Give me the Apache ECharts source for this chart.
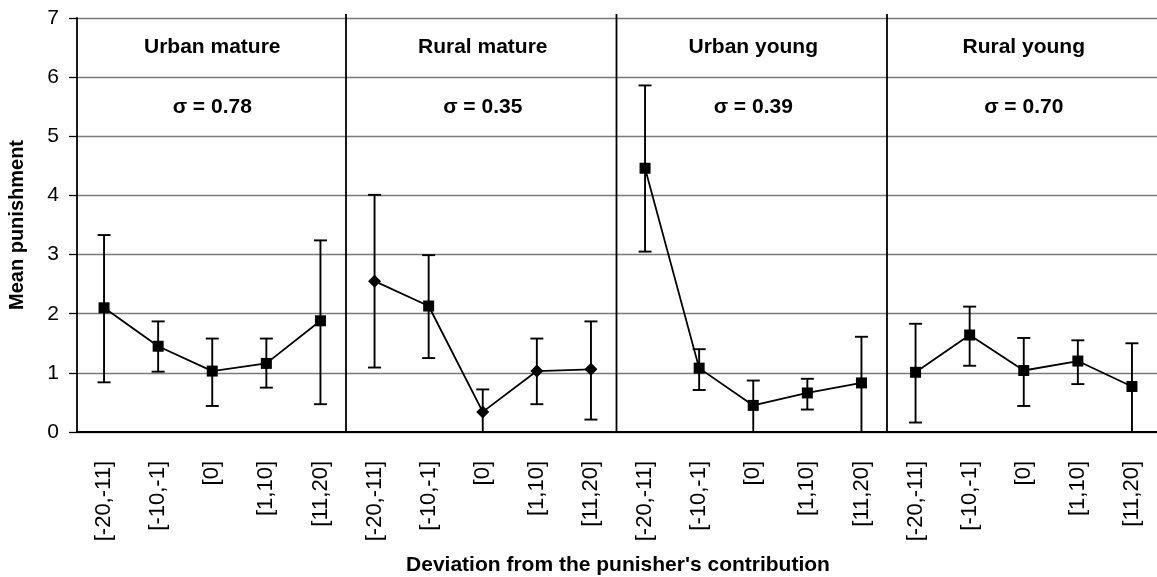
<!DOCTYPE html>
<html>
<head>
<meta charset="utf-8">
<script src="https://cdn.jsdelivr.net/npm/echarts/dist/echarts.min.js"></script>
<style>
  html, body { margin: 0; padding: 0; background: #fff; }
  #chart { width: 1157px; height: 577px; }
</style>
</head>
<body>
<div id="chart"></div>
<script>
// deviation bins, same five in every panel
const bins = ["[-20,-11]", "[-10,-1]", "[0]", "[1,10]", "[11,20]"];
const groupNames = ["Urban mature", "Rural mature", "Urban young", "Rural young"];
const sigmaLabels = ["σ = 0.78", "σ = 0.35", "σ = 0.39", "σ = 0.70"];
const yTicks = [0, 1, 2, 3, 4, 5, 6, 7];

// mean punishment per panel
const urbanMature = [2.10, 1.45, 1.03, 1.16, 1.88];
const ruralMature = [2.55, 2.13, 0.34, 1.03, 1.06];
const urbanYoung = [4.46, 1.08, 0.45, 0.66, 0.83];
const ruralYoung = [1.01, 1.64, 1.04, 1.20, 0.77];

// error bar ends
const urbanMatureHigh = [3.33, 1.87, 1.58, 1.58, 3.24];
const urbanMatureLow = [0.84, 1.02, 0.44, 0.75, 0.47];
const ruralMatureHigh = [4.01, 2.99, 0.72, 1.58, 1.87];
const ruralMatureLow = [1.09, 1.25, 0.00, 0.47, 0.21];
const urbanYoungHigh = [5.86, 1.40, 0.87, 0.90, 1.61];
const urbanYoungLow = [3.05, 0.71, 0.00, 0.38, 0.00];
const ruralYoungHigh = [1.83, 2.12, 1.59, 1.55, 1.50];
const ruralYoungLow = [0.16, 1.12, 0.44, 0.81, 0.00];

const means = [urbanMature, ruralMature, urbanYoung, ruralYoung];
const highs = [urbanMatureHigh, ruralMatureHigh, urbanYoungHigh, ruralYoungHigh];
const lows = [urbanMatureLow, ruralMatureLow, urbanYoungLow, ruralYoungLow];

const FONT = "'Liberation Sans', Arial, sans-serif";
const n = bins.length;
const categories = [];
groupNames.forEach(() => bins.forEach((b) => categories.push(b)));

// one line per panel so the panels are not joined
const lineSeries = means.map((vals, g) => {
  const data = categories.map(() => "-");
  vals.forEach((v, i) => { data[g * n + i] = v; });
  return {
    type: "line",
    data: data,
    connectNulls: false,
    symbol: function (value, params) {
      // rural mature panel uses diamonds, except the second point
      if (g === 1 && params.dataIndex !== n + 1) return "diamond";
      return "rect";
    },
    symbolSize: function (value, params) {
      return (g === 1 && params.dataIndex !== n + 1) ? 13 : 11;
    },
    lineStyle: { color: "#000", width: 1.8 },
    itemStyle: { color: "#000" },
    z: 4,
    silent: true,
  };
});

const errData = [];
means.forEach((vals, g) => {
  vals.forEach((v, i) => errData.push([g * n + i, lows[g][i], highs[g][i]]));
});

const errSeries = {
  type: "custom",
  data: errData,
  z: 3,
  silent: true,
  renderItem: function (params, api) {
    const lo = api.coord([api.value(0), api.value(1)]);
    const hi = api.coord([api.value(0), api.value(2)]);
    const cap = 6.5;
    const style = { stroke: "#000", lineWidth: 1.9 };
    return {
      type: "group",
      children: [
        { type: "line", shape: { x1: lo[0], y1: lo[1], x2: hi[0], y2: hi[1] }, style: style },
        { type: "line", shape: { x1: hi[0] - cap, y1: hi[1], x2: hi[0] + cap, y2: hi[1] }, style: style },
        { type: "line", shape: { x1: lo[0] - cap, y1: lo[1], x2: lo[0] + cap, y2: lo[1] }, style: style },
      ],
    };
  },
};

// panel separators + panel headings
const panelSeries = {
  type: "custom",
  data: groupNames.map((name, g) => [g * n + 2, g]),
  z: 5,
  silent: true,
  renderItem: function (params, api) {
    const g = api.value(1);
    const mid = api.coord([api.value(0), 6.5]);
    const sig = api.coord([api.value(0), 5.5]);
    const band = api.size([1, 0])[0];
    const children = [
      {
        type: "text",
        style: {
          x: mid[0], y: mid[1], text: groupNames[g], fill: "#000",
          font: "bold 21px " + FONT, align: "center", verticalAlign: "middle",
        },
      },
      {
        type: "text",
        style: {
          x: sig[0], y: sig[1], text: sigmaLabels[g], fill: "#000",
          font: "bold 21px " + FONT, align: "center", verticalAlign: "middle",
        },
      },
    ];
    if (g > 0) {
      const top = api.coord([api.value(0), 7]);
      const bot = api.coord([api.value(0), 0]);
      const x = mid[0] - band * 2.5 - 1.5;
      children.push({
        type: "line",
        shape: { x1: x, y1: top[1] - 4, x2: x, y2: bot[1] },
        style: { stroke: "#000", lineWidth: 1.8 },
      });
    }
    return { type: "group", children: children };
  },
};

const chart = echarts.init(document.getElementById("chart"));
chart.setOption({
  animation: false,
  backgroundColor: "#fff",
  textStyle: { fontFamily: FONT },
  grid: {
    left: 77,
    top: 18,
    width: 1082,
    height: 414,
    containLabel: false,
    outerBoundsMode: "none",
  },
  xAxis: {
    type: "category",
    data: categories,
    boundaryGap: true,
    name: "Deviation from the punisher's contribution",
    nameLocation: "middle",
    nameGap: 123,
    nameTextStyle: { color: "#000", fontSize: 21, fontWeight: "bold", fontFamily: FONT },
    axisLine: { lineStyle: { color: "#000", width: 1.8 } },
    axisTick: { interval: 0, length: 7, lineStyle: { color: "#000", width: 1.3 } },
    axisLabel: { interval: 0, rotate: 90, margin: 29, color: "#000", fontSize: 22, fontFamily: FONT },
    splitLine: { show: false },
  },
  yAxis: {
    type: "value",
    min: yTicks[0],
    max: yTicks[yTicks.length - 1],
    interval: 1,
    name: "Mean punishment",
    nameLocation: "middle",
    nameGap: 50,
    nameTextStyle: { color: "#000", fontSize: 20, fontWeight: "bold", fontFamily: FONT },
    axisLine: { show: true, lineStyle: { color: "#000", width: 1.8 } },
    axisTick: { show: true, length: 8, lineStyle: { color: "#000", width: 1.3 } },
    axisLabel: { margin: 18, color: "#000", fontSize: 21, fontFamily: FONT },
    splitLine: { lineStyle: { color: "#7a7a7a", width: 1.3 } },
  },
  series: [errSeries].concat(lineSeries).concat([panelSeries]),
});

window.addEventListener("resize", () => {
  chart.resize();
});
</script>
</body>
</html>
